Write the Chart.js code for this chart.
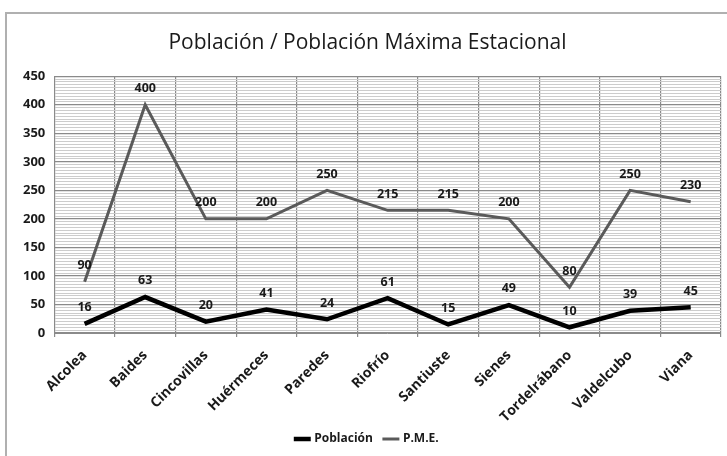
<!DOCTYPE html>
<html>
<head>
<meta charset="utf-8">
<script src="https://cdn.jsdelivr.net/npm/chart.js@4/dist/chart.umd.min.js"></script>
<style>
  body { margin: 0; background: #fff; }
  #wrap { position: absolute; left: 0; top: 0; width: 727px; height: 456px; }
  #frame { position: absolute; left: 5px; top: 12px; width: 730px; height: 460px; border: 2px solid #b0b0b0; box-sizing: border-box; }
</style>
</head>
<body>
<div id="frame"></div>
<div id="wrap"><canvas id="chart" width="727" height="456"></canvas></div>
<script>
var pueblos = ['Alcolea', 'Baides', 'Cincovillas', 'Huérmeces', 'Paredes', 'Riofrío', 'Santiuste', 'Sienes', 'Tordelrábano', 'Valdelcubo', 'Viana'];
var poblacion = [16, 63, 20, 41, 24, 61, 15, 49, 10, 39, 45];
var pme = [90, 400, 200, 200, 250, 215, 215, 200, 80, 250, 230];
var yMax = 450;

// etiquetas de valor encima de cada punto
var valueLabels = {
    id: 'valueLabels',
    afterDatasetsDraw: function(chart) {
        var ctx = chart.ctx;
        ctx.save();
        ctx.font = 'bold 12.5px "Open Sans", sans-serif';
        ctx.fillStyle = '#1a1a1a';
        ctx.textAlign = 'center';
        ctx.textBaseline = 'bottom';
        chart.data.datasets.forEach(function(ds, i) {
            var meta = chart.getDatasetMeta(i);
            meta.data.forEach(function(pt, j) {
                ctx.fillText(ds.data[j], pt.x, pt.y - 10);
            });
        });
        ctx.restore();
    }
};

var ctx = document.getElementById('chart').getContext('2d');
new Chart(ctx, {
    type: 'line',
    data: {
        labels: pueblos,
        datasets: [{
            label: 'Población',
            data: poblacion,
            borderColor: '#000',
            backgroundColor: '#000',
            borderWidth: 4.5,
            pointRadius: 0,
            tension: 0
        }, {
            label: 'P.M.E.',
            data: pme,
            borderColor: '#5a5a5a',
            backgroundColor: '#5a5a5a',
            borderWidth: 3,
            pointRadius: 0,
            tension: 0
        }]
    },
    options: {
        responsive: false,
        animation: false,
        layout: { padding: { left: 14, right: 6, top: 30, bottom: 1 } },
        plugins: {
            title: {
                display: true,
                text: 'Población / Población Máxima Estacional',
                color: '#1a1a1a',
                font: { family: '"Open Sans", sans-serif', size: 21, weight: 'normal' },
                padding: { top: 0, bottom: 21 }
            },
            legend: {
                position: 'bottom',
                labels: {
                    usePointStyle: true,
                    pointStyle: 'line',
                    boxWidth: 26,
                    padding: 12,
                    color: '#1a1a1a',
                    font: { family: '"Open Sans", sans-serif', size: 12, weight: 'bold' }
                }
            },
            tooltip: { enabled: false }
        },
        scales: {
            x: {
                offset: true,
                grid: { offset: true, color: '#8a8a8a', lineWidth: 1.2, drawTicks: true, tickLength: 4 },
                border: { color: '#8a8a8a' },
                afterFit: function(scale) { scale.height = 88; },
                ticks: {
                    maxRotation: 45,
                    minRotation: 45,
                    padding: 10,
                    color: '#1a1a1a',
                    font: { family: '"Open Sans", sans-serif', size: 14, weight: 'bold' }
                }
            },
            y: {
                min: 0,
                max: yMax,
                border: { color: '#8a8a8a' },
                grid: {
                    drawTicks: false,
                    color: function(c) { return c.tick.value % 50 === 0 ? '#8a8a8a' : '#cccccc'; },
                    lineWidth: function(c) { return c.tick.value % 50 === 0 ? 1.2 : 1; }
                },
                ticks: {
                    stepSize: 5,
                    maxTicksLimit: 200,
                    autoSkip: false,
                    padding: 9,
                    color: '#1a1a1a',
                    font: { family: '"Open Sans", sans-serif', size: 13, weight: 'bold' },
                    callback: function(v) { return v % 50 === 0 ? v : ''; }
                }
            }
        }
    },
    plugins: [valueLabels]
});
</script>
</body>
</html>
